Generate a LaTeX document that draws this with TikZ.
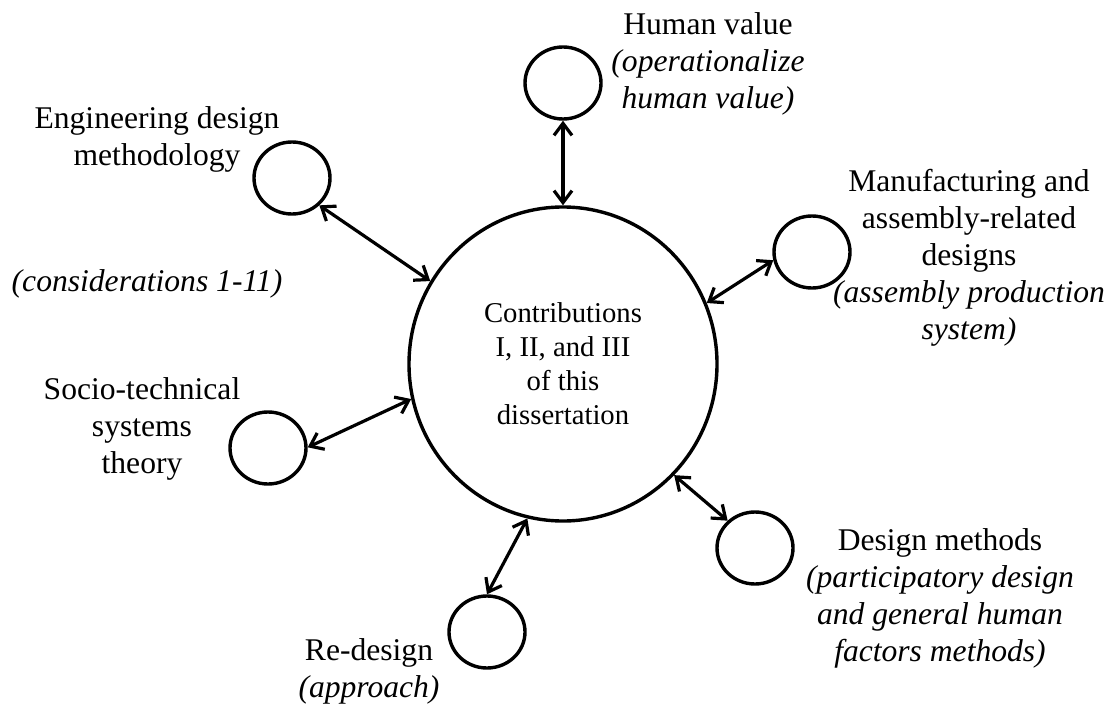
\documentclass[tikz,border=0pt]{standalone}
\usepackage{fontspec}
\setmainfont{Liberation Serif}
\usetikzlibrary{arrows.meta,shapes.geometric}

\begin{document}
\begin{tikzpicture}[x=0.5pt, y=-0.5pt,
  core/.style={draw, ellipse, line width=1.7pt, minimum width=154pt, minimum height=157pt, inner sep=0pt, align=center, font=\fontsize{14.35}{17}\selectfont},
  spoke/.style={draw, ellipse, line width=1.7pt, minimum width=38pt, minimum height=36pt, inner sep=0pt},
  lbl/.style={align=center, inner sep=0pt, font=\fontsize{15.8}{18.5}\selectfont},
  link/.style={{Straight Barb[length=6pt,width=9pt]}-{Straight Barb[length=6pt,width=9pt]}, line width=1.6pt}]
  \useasboundingbox (0,0) rectangle (1118,706);
  \node[core] (core) at (563,364) {Contributions\\I, II, and III\\of this\\dissertation};
  \node[spoke] (human) at (563,83) {};
  \node[spoke] (eng) at (292,178) {};
  \node[spoke] (manu) at (812,252) {};
  \node[spoke] (socio) at (268,448) {};
  \node[spoke] (dm) at (755,548) {};
  \node[spoke] (redesign) at (487,632) {};
  \node[lbl] (humanlbl) at (708,64) {Human value\\\textit{(operationalize}\\\textit{human value)}};
  \node[lbl] (englbl) at (157,139) {Engineering design\\methodology};
  \node[lbl] (conslbl) at (147,284) {\textit{(considerations 1-11)}};
  \node[lbl] (manulbl) at (969,258) {Manufacturing and\\assembly-related\\designs\\\textit{(assembly production}\\\textit{system)}};
  \node[lbl] (sociolbl) at (142,429) {Socio-technical\\systems\\theory};
  \node[lbl] (dmlbl) at (940,598) {Design methods\\\textit{(participatory design}\\\textit{and general human}\\\textit{factors methods)}};
  \node[lbl] (redesignlbl) at (369,671) {Re-design\\\textit{(approach)}};
  \draw[link] (human.270) -- (core.90);
  \draw[link] (eng.315) -- (core.148);
  \draw[link] (manu.192) -- (core.23);
  \draw[link] (socio.1) -- (core.193);
  \draw[link] (dm.135) -- (core.315);
  \draw[link] (redesign.90) -- (core.257);
\end{tikzpicture}
\end{document}
